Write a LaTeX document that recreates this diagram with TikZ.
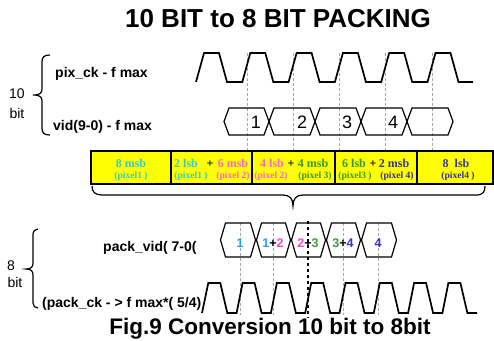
\documentclass[tikz,border=0pt]{standalone}
\usepackage{fontspec}
\setmainfont{Liberation Sans}
\newfontfamily\tabfont{Liberation Serif}
\definecolor{tcyan}{HTML}{33CCCC}
\definecolor{tpink}{HTML}{FF66CC}
\definecolor{tgreen}{HTML}{339933}
\definecolor{tblue}{HTML}{333399}
\definecolor{bcyan}{HTML}{1E9FFF}
\definecolor{bpink}{HTML}{FF44CC}
\definecolor{bgreen}{HTML}{33A033}
\definecolor{bblue}{HTML}{3333CC}
\definecolor{tyellow}{HTML}{FFFF00}
\begin{document}
\begin{tikzpicture}[x=1pt,y=-1pt,
  clk/.style={line width=1.7pt,line join=miter},
  hexa/.style={line width=1.2pt,line join=miter},
  guide/.style={gray!70,line width=0.4pt,densely dashed},
  bracestyle/.style={line width=1.2pt},
  lbl/.style={inner sep=0pt,font=\fontsize{14}{14}\selectfont\bfseries,anchor=base west},
  side/.style={inner sep=0pt,font=\fontsize{14}{14}\selectfont,anchor=base},
  tdig/.style={inner sep=0pt,font=\fontsize{18}{18}\selectfont,anchor=base},
  bdig/.style={inner sep=0pt,font=\fontsize{12.5}{12.5}\selectfont\bfseries,anchor=base},
  tl1/.style={inner sep=0pt,font=\tabfont\fontsize{12}{12}\selectfont\bfseries,anchor=base},
  tl2/.style={inner sep=0pt,font=\tabfont\fontsize{9.6}{9.6}\selectfont\bfseries,anchor=base}]
\useasboundingbox[fill=white] (0,0) rectangle (494,340);

% title and caption
\node[inner sep=0pt,anchor=base,font=\fontsize{26}{26}\selectfont\bfseries] (title) at (278,27) {10 BIT to 8 BIT PACKING};
\node[inner sep=0pt,anchor=base,font=\fontsize{22.5}{22.5}\selectfont\bfseries] (caption) at (270,334) {Fig.9 Conversion 10 bit to 8bit};

% top guide lines
\foreach \x in {247,293,339,385,432} \draw[guide] (\x,53) -- (\x,150);

% pix_ck clock
\draw[clk] (196,82) foreach \t in {204,250.3,296.6,342.9,389.2} {-- (\t,53) -- (\t+15,53) -- (\t+23,82) -- (\t+38.3,82)}
  -- (435.5,53) -- (450.5,53) -- (458.5,82) -- (473,82);

% vid(9-0) hexagons
\foreach \a/\b in {224/269,269/315,315/361,361/407,407/453}
  \draw[hexa] (\a,121.5) -- (\a+5,108) -- (\b-5,108) -- (\b,121.5) -- (\b-5,135) -- (\a+5,135) -- cycle;
\node[tdig] (v1) at (256,128) {1};
\node[tdig] (v2) at (302,128) {2};
\node[tdig] (v3) at (347,128) {3};
\node[tdig] (v4) at (393,128) {4};

% labels top
\node[lbl] (pixck) at (55,77) {pix\_ck - f max};
\node[lbl] (vid) at (53,130) {vid(9-0) - f max};
\node[side] (ten) at (17,98) {10};
\node[side] (bitA) at (17,118) {bit};
\draw[bracestyle] (50,55) .. controls (44,55) and (42,57) .. (42,62) -- (42,89)
  .. controls (42,93) and (40,95) .. (33,95) .. controls (40,95) and (42,97) .. (42,101)
  -- (42,128) .. controls (42,133) and (44,135) .. (50,135);

% table
\draw[fill=tyellow,line width=1.8pt] (91,151) rectangle (493,184);
\foreach \x in {171,252,335,417} \draw[line width=1.8pt] (\x,151) -- (\x,184);
\node[tl1,text=tcyan] (c1a) at (131,167) {8 msb};
\node[tl2,text=tcyan] (c1b) at (131,178.5) {(pixel1 )};
\node[tl1,text=tcyan] (c2a) at (186,167) {2 lsb};
\node[tl1] (c2p) at (210,167) {+};
\node[tl1,text=tpink] (c2c) at (233,167) {6 msb};
\node[tl2,text=tcyan] (c2b) at (191,178.5) {(pixel1 )};
\node[tl2,text=tpink] (c2d) at (233,178.5) {(pixel 2)};
\node[tl1,text=tpink] (c3a) at (272,167) {4 lsb};
\node[tl1] (c3p) at (291,167) {+};
\node[tl1,text=tgreen] (c3c) at (313,167) {4 msb};
\node[tl2,text=tpink] (c3b) at (271,178.5) {(pixel 2)};
\node[tl2,text=tgreen] (c3d) at (315,178.5) {(pixel 3)};
\node[tl1,text=tgreen] (c4a) at (354,167) {6 lsb};
\node[tl1] (c4p) at (373,167) {+};
\node[tl1,text=tblue] (c4c) at (394,167) {2 msb};
\node[tl2,text=tgreen] (c4b) at (355,178.5) {(pixel3 )};
\node[tl2,text=tblue] (c4d) at (397,178.5) {(pixel 4)};
\node[tl1,text=tblue] (c5a) at (456,167) {8\ \ lsb};
\node[tl2,text=tblue] (c5b) at (458,178.5) {(pixel4 )};

% big brace under table
\draw[bracestyle] (92,186) .. controls (92,192) and (95,195) .. (102,195) -- (283,195)
  .. controls (290,195) and (293,199) .. (293,206) .. controls (293,199) and (296,195) .. (303,195)
  -- (476,195) .. controls (483,195) and (485,192) .. (485,186);

% bottom guide lines
\foreach \x in {240,273,343,378} \draw[guide] (\x,223) -- (\x,315);
\draw[line width=1.6pt,dashed] (308,221) -- (308,318);

% pack_vid hexagons
\foreach \a/\b in {220/256,256/291,291/326,326/361,361/397}
  \draw[hexa] (\a+0.5,240) -- (\a+5.5,223) -- (\b-5.5,223) -- (\b-0.5,240) -- (\b-5.5,257) -- (\a+5.5,257) -- cycle;
\node[bdig,text=bcyan] (p1) at (240,247) {1};
\node[bdig] (p2) at (273,247) {\textcolor{bcyan}{1}+\textcolor{bpink}{2}};
\node[bdig] (p3) at (308,247) {\textcolor{bpink}{2}+\textcolor{bgreen}{3}};
\node[bdig] (p4) at (343,247) {\textcolor{bgreen}{3}+\textcolor{bblue}{4}};
\node[bdig,text=bblue] (p5) at (378,247) {4};

% pack_ck clock
\draw[clk] (202,313) foreach \t in {208.3,242.6,276.9,311.2,345.5,379.8,414.1} {-- (\t,283) -- (\t+12,283) -- (\t+19,313) -- (\t+28.3,313)}
  -- (448.4,283) -- (460.4,283) -- (467.4,313) -- (477,313);

% labels bottom
\node[lbl] (packvid) at (103,251) {pack\_vid( 7-0(};
\node[lbl] (packck) at (42,307) {(pack\_ck - > f max*( 5/4)};
\node[side] (eight) at (11,270) {8};
\node[side] (bitB) at (15,287) {bit};
\draw[bracestyle] (38,229) .. controls (35,229) and (33,231) .. (33,235) -- (33,263)
  .. controls (33,267) and (31,269) .. (26,269) .. controls (31,269) and (33,271) .. (33,275)
  -- (33,303) .. controls (33,306) and (35,308) .. (38,308);
\end{tikzpicture}
\end{document}
